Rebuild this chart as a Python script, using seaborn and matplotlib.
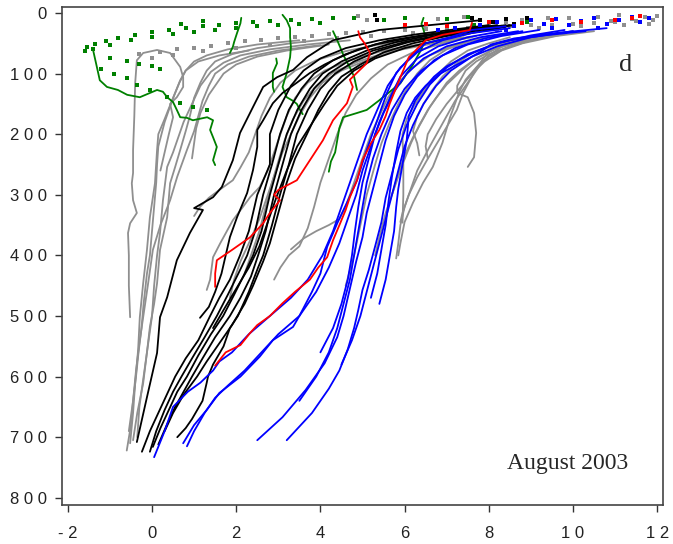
import matplotlib
matplotlib.use("Agg")
import matplotlib.pyplot as plt
import seaborn as sns
import pandas as pd

# ---------------- data: profiles as (x, depth) points ----------------
gray_profiles = [
    [(0.2,260),(0.3,230),(0.4,200),(0.5,172),(0.43,150),(0.59,139),(0.74,122),(0.74,106),(0.67,89),(0.43,66),(0.12,61),(-0.21,66),(-0.36,78),(-0.4,116),(-0.42,170),(-0.45,226),(-0.45,264),(-0.48,281),(-0.45,309),(-0.36,330),(-0.52,347),(-0.57,363),(-0.55,400),(-0.55,450),(-0.52,502)],
    [(-0.52,710),(-0.45,660),(-0.4,611),(-0.33,556),(-0.29,502),(-0.21,446),(-0.12,391),(-0.05,337),(0.07,281),(0.12,226),(0.15,200),(0.3,175),(0.5,140),(0.65,115),(0.8,95),(1.0,80),(1.3,70),(1.8,60),(2.5,52),(3.5,45)],
    [(-0.45,705),(-0.35,660),(-0.21,611),(-0.12,560),(-0.05,518),(0.05,480),(0.12,446),(0.19,391),(0.36,337),(0.43,281),(0.55,254),(0.67,226),(0.8,195),(0.9,170),(1.0,140),(1.15,115),(1.3,95),(1.5,80),(1.9,68),(2.5,58),(3.3,50),(4.3,42)],
    [(-0.35,700),(-0.3,650),(-0.2,600),(-0.1,550),(0.0,500),(0.05,450),(0.12,400),(0.19,363),(0.26,309),(0.36,254),(0.5,230),(0.6,210),(0.75,180),(0.95,150),(1.15,120),(1.4,97),(1.7,82),(2.1,70),(2.8,60),(3.7,52),(4.7,45)],
    [(-0.55,690),(-0.45,640),(-0.38,590),(-0.3,545),(-0.21,502),(-0.1,450),(0.02,391),(0.2,350),(0.43,309),(0.6,270),(0.83,226),(1.0,195),(1.1,170),(1.2,145),(1.35,120),(1.5,100),(1.8,85),(2.3,72),(3.0,62),(4.0,53)],
    [(-0.6,722),(-0.5,680),(-0.45,640),(-0.38,600),(-0.32,560),(-0.25,520),(-0.2,480),(-0.12,430),(-0.05,400),(0.0,360),(0.05,320),(0.1,280),(0.12,250),(0.15,220),(0.3,180),(0.45,150),(0.55,132),(0.67,111),(0.8,95),(1.1,80),(1.6,70),(2.3,62)],
    [(0.95,240),(1.0,215),(1.05,190),(1.15,165),(1.25,150),(1.35,135),(1.5,120),(1.7,100),(2.0,85),(2.5,72),(3.2,62),(4.2,52)],
    [(1.3,457),(1.38,440),(1.45,403),(1.62,380),(1.92,342),(2.16,320),(2.33,304),(2.56,287),(2.75,260),(2.9,230),(3.05,200),(3.2,170),(3.4,140),(3.7,115),(4.1,95),(4.7,78),(5.5,62),(6.5,50),(7.5,40)],
    [(1.0,335),(1.14,320),(1.35,305),(1.6,292),(1.92,276),(2.1,255),(2.3,230),(2.45,200),(2.6,170),(2.8,140),(3.05,115),(3.4,95),(3.9,78),(4.6,63),(5.4,52),(6.3,43),(7.2,36)],
    [(1.85,470),(1.95,440),(2.1,410),(2.3,380),(2.55,340),(2.75,300),(2.95,260),(3.1,230),(3.3,200),(3.5,170),(3.75,140),(4.05,115),(4.5,95),(5.1,78),(5.8,62),(6.7,50),(7.6,40)],
    [(2.2,430),(2.35,400),(2.55,360),(2.7,320),(2.85,280),(3.0,245),(3.15,210),(3.35,175),(3.6,145),(3.9,120),(4.3,98),(4.9,80),(5.6,64),(6.5,50),(7.4,40)],
    [(3.3,390),(3.6,372),(3.9,360),(4.2,350),(4.45,340),(4.6,320),(4.75,290),(4.9,260),(5.05,230),(5.2,200),(5.4,170),(5.6,140),(5.85,115),(6.2,90),(6.6,70),(7.1,55),(7.8,42),(8.6,32)],
    [(2.9,440),(3.05,420),(3.25,400),(3.5,385),(3.7,355),(3.85,320),(4.0,280),(4.2,240),(4.4,200),(4.6,165),(4.85,135),(5.2,108),(5.6,85),(6.2,65),(6.9,50),(7.7,38)],
    [(9.5,32),(9.0,40),(8.5,48),(8.03,61),(7.72,89),(7.55,111),(7.39,132),(7.24,160),(7.0,188),(6.77,215),(6.53,243),(6.3,271),(6.1,300),(5.95,330),(5.9,345)],
    [(10.0,30),(9.3,38),(8.7,46),(8.3,56),(8.0,70),(7.8,85),(7.6,105),(7.4,125),(7.2,145),(7.0,170),(6.8,195),(6.6,220),(6.45,240),(6.3,260),(6.15,290),(6.0,320),(5.9,350),(5.85,380),(5.8,405)],
    [(9.0,45),(8.5,55),(8.0,68),(7.7,80),(7.45,95),(7.25,120),(7.25,132),(7.5,139),(7.65,165),(7.7,198),(7.65,238),(7.5,254)],
    [(9.8,35),(9.0,45),(8.4,58),(8.0,72),(7.7,90),(7.45,110),(7.3,130),(7.08,172),(6.9,214),(6.67,254),(6.44,280),(6.2,313),(6.0,345),(5.9,380),(5.85,400)],
    [(10.5,30),(9.6,38),(8.8,50),(8.3,62),(7.9,80),(7.6,100),(7.3,125),(7.0,150),(6.75,175),(6.55,200),(6.5,220),(6.55,240)],
    [(8.5,40),(8.0,50),(7.5,62),(7.1,80),(6.8,100),(6.5,125),(6.25,150),(6.05,175),(5.95,200),(5.97,250),(5.97,300),(5.95,346)],
    [(9.2,38),(8.6,48),(8.1,60),(7.7,75),(7.35,95),(7.0,118),(6.75,140),(6.55,160),(6.35,185),(6.15,215),(5.95,250),(5.75,290),(5.55,330),(5.4,370),(5.3,400)],
    [(8.0,38),(7.5,48),(7.0,60),(6.6,78),(6.3,100),(6.05,125),(5.85,150),(5.65,180),(5.45,215),(5.3,250),(5.1,300),(4.95,350),(4.8,400),(4.6,450)],
    [(9.6,36),(8.9,45),(8.2,58),(7.7,75),(7.3,95),(7.0,115),(6.8,135),(6.6,155),(6.4,180),(6.2,205),(6.0,235),(5.85,265),(5.7,300)],
    [(8.8,42),(8.2,52),(7.6,66),(7.2,85),(6.9,105),(6.65,128),(6.45,150),(6.3,170),(6.2,195),(6.3,215),(6.35,235)],
]

black_profiles = [
    [(-0.36,708),(-0.12,634),(0.12,561),(0.19,502),(0.36,469),(0.59,408),(0.9,363),(1.21,325),(1.0,322),(1.45,304),(1.66,287),(1.92,243),(2.09,198),(2.4,155),(2.64,122),(2.97,106),(3.35,94),(3.68,73),(4.3,45),(5.4,28),(6.6,20),(7.8,12)],
    [(1.14,503),(1.35,485),(1.5,460),(1.65,430),(1.75,400),(1.85,370),(2.02,337),(2.26,297),(2.4,259),(2.5,221),(2.5,193),(2.64,177),(2.87,149),(3.1,132),(3.44,115),(3.75,99),(4.1,85),(4.6,68),(5.3,52),(6.2,40),(7.0,32),(7.8,24)],
    [(-0.24,724),(-0.05,690),(0.15,660),(0.35,630),(0.55,600),(0.8,570),(1.1,540),(1.38,500),(1.6,470),(1.85,440),(2.09,400),(2.3,360),(2.5,300),(2.8,250),(2.8,200),(3.0,160),(3.3,120),(3.6,95),(4.0,75),(4.6,58),(5.4,45),(6.3,35),(7.2,27),(8.0,20)],
    [(-0.05,724),(0.1,690),(0.3,655),(0.5,625),(0.7,600),(0.95,570),(1.25,535),(1.54,500),(1.8,465),(2.05,430),(2.26,400),(2.45,360),(2.64,300),(2.85,250),(3.04,200),(3.25,160),(3.55,125),(3.85,100),(4.3,78),(4.9,60),(5.6,46),(6.5,36),(7.3,28),(8.2,20)],
    [(0.02,716),(0.2,685),(0.4,655),(0.6,625),(0.83,600),(1.1,565),(1.4,530),(1.69,500),(1.95,465),(2.2,430),(2.4,400),(2.6,360),(2.8,300),(3.0,250),(3.2,200),(3.45,160),(3.75,125),(4.05,100),(4.5,80),(5.1,62),(5.8,48),(6.6,37),(7.5,28),(8.3,21)],
    [(0.6,700),(0.8,685),(0.95,670),(1.2,640),(1.3,610),(1.33,600),(1.45,580),(1.7,550),(1.85,520),(2.04,500),(2.3,460),(2.52,420),(2.64,400),(2.85,350),(3.04,300),(3.25,250),(3.44,200),(3.7,160),(4.0,125),(4.35,100),(4.8,80),(5.4,62),(6.1,48),(6.9,37),(7.7,28),(8.5,20)],
    [(0.15,712),(0.35,680),(0.55,650),(0.75,625),(0.95,600),(1.2,570),(1.5,535),(1.85,500),(2.1,470),(2.35,435),(2.52,400),(2.7,360),(2.9,300),(3.1,250),(3.3,200),(3.55,160),(3.85,125),(4.2,100),(4.65,80),(5.25,62),(6.0,48),(6.8,37),(7.6,28),(8.4,20)],
    [(0.3,690),(0.5,660),(0.75,630),(1.07,600),(1.3,575),(1.6,545),(1.9,515),(2.2,480),(2.4,450),(2.64,410),(2.8,380),(3.0,330),(3.2,280),(3.4,240),(3.68,200),(3.95,160),(4.2,130),(4.5,105),(4.95,85),(5.5,65),(6.2,50),(7.0,38),(7.8,28),(8.6,20)],
    [(1.45,520),(1.7,490),(2.0,455),(2.3,420),(2.55,385),(2.75,345),(2.95,305),(3.2,260),(3.45,220),(3.82,180),(4.1,150),(4.4,120),(4.8,95),(5.3,75),(6.0,58),(6.8,45),(7.6,33),(8.4,23)],
]

blue_profiles = [
    [(0.05,733),(0.3,690),(0.5,650),(0.85,625),(1.15,610),(1.45,590),(1.6,575),(1.9,560),(2.3,530),(2.8,500),(3.3,470),(3.7,440),(4.05,400),(4.3,360),(4.5,320),(4.7,280),(4.9,240),(5.1,200),(5.35,160),(5.6,120),(5.9,90),(6.3,65),(6.9,45),(7.6,33),(8.5,25)],
    [(0.74,710),(1.0,680),(1.3,655),(1.6,627),(2.1,600),(2.56,567),(2.87,540),(3.35,518),(3.5,500),(3.8,460),(4.0,430),(4.16,386),(4.4,347),(4.63,313),(4.87,276),(5.1,226),(5.35,177),(5.58,132),(5.8,99),(6.13,73),(6.5,50),(7.08,40),(7.6,28),(8.4,22)],
    [(0.83,715),(1.0,690),(1.25,660),(1.5,635),(1.8,615),(2.2,590),(2.6,560),(3.0,530),(3.5,500),(3.9,460),(4.2,420),(4.45,380),(4.65,340),(4.85,300),(5.0,260),(5.2,220),(5.4,180),(5.65,140),(5.9,105),(6.3,75),(6.8,55),(7.5,40),(8.3,30)],
    [(2.5,705),(3.1,667),(3.65,622),(4.1,578),(4.4,535),(4.55,500),(4.7,455),(4.85,410),(5.0,370),(5.1,330),(5.25,290),(5.4,250),(5.55,210),(5.75,170),(6.0,135),(6.3,105),(6.7,78),(7.2,58),(7.9,42),(8.8,30)],
    [(3.2,705),(3.8,660),(4.2,620),(4.45,590),(4.65,555),(4.8,520),(4.9,490),(5.0,457),(5.15,424),(5.3,385),(5.45,345),(5.55,305),(5.7,265),(5.85,225),(6.05,185),(6.3,150),(6.6,118),(7.0,90),(7.5,68),(8.2,50),(9.0,37),(9.8,28)],
    [(3.5,640),(3.9,600),(4.2,560),(4.4,520),(4.55,480),(4.7,440),(4.8,400),(4.9,360),(5.0,320),(5.1,280),(5.25,240),(5.45,200),(5.7,160),(6.0,125),(6.4,95),(6.9,70),(7.5,52),(8.3,38),(9.2,28)],
    [(4.0,560),(4.3,520),(4.5,480),(4.65,440),(4.75,400),(4.82,360),(4.9,320),(5.0,280),(5.15,240),(5.3,200),(5.5,165),(5.75,130),(6.05,100),(6.45,75),(7.0,55),(7.8,40),(8.7,30)],
    [(4.5,580),(4.75,540),(4.95,500),(5.1,460),(5.25,420),(5.4,380),(5.55,340),(5.7,300),(5.85,260),(6.0,220),(6.2,185),(6.45,150),(6.75,120),(7.1,95),(7.6,72),(8.2,55),(9.0,40),(10.0,30)],
    [(5.4,480),(5.55,440),(5.65,400),(5.75,360),(5.8,320),(5.85,290),(5.95,250),(6.05,210),(6.1,170),(6.25,145),(6.45,125),(6.7,105),(7.0,88),(7.35,75),(7.75,62),(8.1,52),(8.5,45),(9.3,37),(10.3,30)],
    [(5.2,470),(5.35,430),(5.45,390),(5.55,350),(5.62,310),(5.7,270),(5.8,230),(5.9,195),(6.05,165),(6.25,140),(6.5,120),(6.85,100),(7.25,85),(7.6,72),(7.85,62),(8.05,52),(8.6,42),(9.6,33),(10.8,25)],
]

red_profiles = [
    [(1.5,582),(1.75,560),(2.1,548),(2.33,528),(2.5,515),(2.8,500),(3.1,479),(3.4,460),(3.75,440),(3.95,420),(4.16,403),(4.3,375),(4.47,347),(4.6,325),(4.7,304),(4.87,276),(5.0,243),(5.2,215),(5.4,193),(5.55,170),(5.65,149),(5.9,106),(6.1,73),(6.5,45),(6.9,36),(7.55,28),(7.6,16)],
    [(1.5,452),(1.5,430),(1.54,408),(1.9,391),(2.33,370),(2.64,347),(2.8,330),(3.04,309),(2.9,300),(3.0,292),(3.44,276),(3.75,243),(4.06,210),(4.3,177),(4.63,149),(4.77,122),(4.7,110),(5.1,83),(5.18,66),(5.05,50),(4.94,40),(4.9,30)],
]

green_profiles = [
    [(-1.4,61),(-1.31,89),(-1.24,111),(-1.07,122),(-0.81,127),(-0.59,135),(-0.29,139),(0.12,127),(0.26,130),(0.36,139),(0.5,147),(0.59,160),(0.67,172),(0.83,173),(0.97,177),(1.31,172),(1.45,177),(1.38,193),(1.45,205),(1.54,221),(1.45,243),(1.5,251)],
    [(2.12,8),(2.1,17),(2.02,33),(1.95,48),(1.92,56),(1.85,66)],
    [(3.1,3),(3.2,12),(3.28,25),(3.28,40),(3.3,56),(3.28,73),(3.2,99),(3.1,122),(3.2,139),(3.35,145),(3.44,150),(3.5,158),(3.58,167)],
    [(2.95,75),(2.97,83),(2.87,99),(2.87,122),(2.9,130)],
    [(6.45,8),(6.4,18),(6.45,28),(6.5,40),(6.45,50),(6.4,60),(6.3,72),(6.2,85),(6.05,100),(5.9,116),(5.7,127),(5.4,144),(5.1,160),(4.87,165),(4.54,172),(4.45,190),(4.4,210),(4.35,230),(4.25,245),(4.2,262)],
    [(4.3,30),(4.4,45),(4.55,70),(4.7,90),(4.8,105),(4.87,127)],
]

# surface (dotted) samples
gray_dots_x = [-0.3,0.2,0.6,1.0,1.4,1.8,2.2,2.6,3.0,3.4,3.8,4.2,4.6,5.0,5.5,6.0,6.5,7.0,7.5,8.0,8.5,9.0,9.5,10.0,10.5,11.0,11.5,11.9,
               0.0,0.5,1.2,2.0,2.8,3.6,4.4,5.2,6.2,7.2,8.2,9.2,10.2,11.2,11.8,
               4.9,5.1,6.8,7.4,8.8,9.4,10.6,10.9,11.1,11.4,11.7,12.0,9.9,8.4]
gray_dots_d = [68,64,60,57,54,50,47,45,42,40,38,35,33,32,30,28,26,25,24,22,21,20,19,18,17,15,14,12,
               75,70,63,57,52,47,42,38,33,30,28,25,22,20,18,
               5,12,10,6,12,8,6,14,4,10,7,5,9,15]
green_dots_x = [4.8,4.3,3.8,3.3,2.8,2.4,2.0,1.6,1.2,0.8,0.4,0.0,-0.4,-0.8,-1.1,-1.35,-1.55,-1.6,
                4.0,3.5,3.0,2.5,2.0,1.5,1.0,0.5,0.0,-0.5,-1.0,-1.4,
                -1.2,-0.9,-0.6,-0.36,-0.05,0.36,0.67,0.97,1.31,-1.0,-0.6,-0.3,0.0,0.2,
                5.5,6.0,7.0,7.5,7.65,8.9,1.2,0.7]
green_dots_d = [8,9,10,11,13,15,17,19,21,24,28,32,37,42,46,51,56,62,
                17,18,20,22,25,28,31,35,40,45,52,60,
                92,100,108,119,127,139,149,155,160,75,80,84,88,92,
                12,8,10,6,20,15,14,18]
blue_dots_x = [7.8,8.2,8.6,9.0,9.3,9.6,9.9,10.2,10.5,10.8,11.1,11.4,11.6,11.8,8.4,9.5,10.6,7.2,6.8]
blue_dots_d = [20,15,22,12,18,10,20,14,8,18,12,6,15,8,28,25,24,24,28]
red_dots_x = [6.0,6.5,7.0,8.0,8.8,9.5,10.2,11.0,11.4,11.6]
red_dots_d = [20,18,22,15,17,12,15,12,8,5]
black_dots_x = [7.6,7.8,8.1,8.4,8.6,8.9,5.3,5.35]
black_dots_d = [8,12,15,10,18,8,3,12]

x_ticks = list(range(-2, 13, 2))
x_minor = list(range(-1, 12, 2))
y_ticks = list(range(0, 801, 100))


def to_frame(profiles, group):
    rows = []
    for i, prof in enumerate(profiles):
        for j, (x, d) in enumerate(prof):
            rows.append({"x": x, "depth": d, "pid": f"{group}{i}", "order": j})
    return pd.DataFrame(rows)


def tick_text(v):
    s = str(abs(v))
    return ("- " if v < 0 else "") + " ".join(s)


sns.set_style("white")
plt.rcParams["font.family"] = ["Liberation Sans", "DejaVu Sans"]

fig = plt.figure(figsize=(6.73, 5.44), dpi=100)
ax = fig.add_axes([62/673, 39/544, 601/673, 498/544])

layers = [
    (gray_profiles, "#8f8f8f", gray_dots_x, gray_dots_d, 1),
    (green_profiles, "#008000", green_dots_x, green_dots_d, 2),
    (black_profiles, "#000000", black_dots_x, black_dots_d, 3),
    (blue_profiles, "#0000ff", blue_dots_x, blue_dots_d, 4),
    (red_profiles, "#ff0000", red_dots_x, red_dots_d, 5),
]
for profs, col, dx, dd, z in layers:
    df = to_frame(profs, col)
    sns.lineplot(data=df, x="x", y="depth", units="pid", estimator=None,
                 sort=False, color=col, linewidth=1.3, ax=ax, legend=False,
                 zorder=z)
    sns.scatterplot(x=dx, y=dd, color=col, s=6, marker="s", linewidth=0,
                    ax=ax, legend=False, zorder=z)

ax.set_xlim(-2.138, 12.138)
ax.set_ylim(811.9, -9.9)
ax.set_xlabel("")
ax.set_ylabel("")

ax.set_xticks(x_ticks)
ax.set_xticks(x_minor, minor=True)
ax.set_xticklabels([tick_text(v) for v in x_ticks])
ax.set_yticks(y_ticks)
ax.set_yticklabels([tick_text(v) for v in y_ticks])
ax.tick_params(axis="both", which="both", direction="out", length=5,
               width=1.0, color="#333333", labelsize=12, labelcolor="#222222")
ax.tick_params(axis="x", which="major", pad=10)
ax.tick_params(axis="y", which="major", pad=6)
ax.tick_params(left=True, bottom=True)
for side in ["top", "right", "bottom", "left"]:
    ax.spines[side].set_visible(True)
    ax.spines[side].set_color("#444444")
    ax.spines[side].set_linewidth(1.2)

ax.text(0.937, 0.884, "d", transform=ax.transAxes, ha="center", va="center",
        fontsize=19, family="Liberation Serif")
ax.text(0.842, 0.084, "August 2003", transform=ax.transAxes, ha="center",
        va="center", fontsize=17, family="Liberation Serif")

fig.savefig("out.png", dpi=100)
